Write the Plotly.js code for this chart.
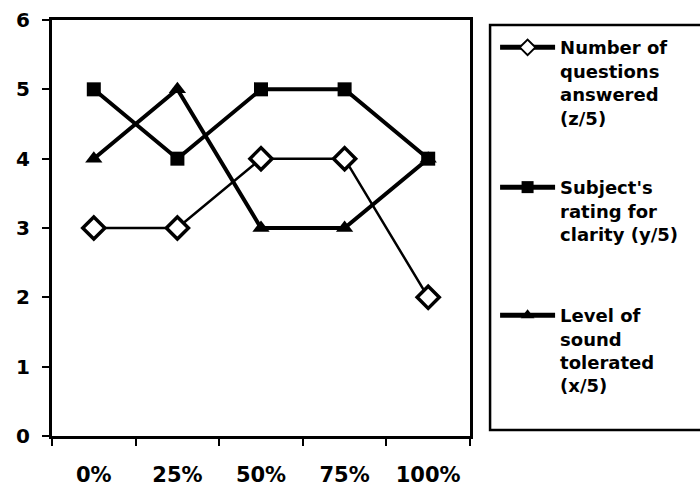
<!DOCTYPE html>
<html>
<head>
<meta charset="utf-8">
<script src="https://cdn.plot.ly/plotly-3.0.1.min.js"></script>
<style>
  html, body { margin: 0; padding: 0; background: #fff; }
  #chart { width: 700px; height: 489px; }
</style>
</head>
<body>
<div id="chart"></div>
<script>
// Share of added noise along the x axis
const levels = ['0%', '25%', '50%', '75%', '100%'];

// Scores out of 5 for each measure
const questionsAnswered = [3, 3, 4, 4, 2];
const clarityRating = [5, 4, 5, 5, 4];
const soundTolerated = [4, 5, 3, 3, 4];

const seriesNames = [
  'Number of<br>questions<br>answered<br>(z/5)',
  "Subject's<br>rating for<br>clarity (y/5)",
  'Level of<br>sound<br>tolerated<br>(x/5)'
];

const FONT = 'DejaVu Sans, Arial, sans-serif';

// One legend block per series so each can sit at its own height
function legendBox(y) {
  return {
    x: 1.06, xanchor: 'left', y: y, yanchor: 'top',
    valign: 'top', borderwidth: 0, itemwidth: 55, itemsizing: 'constant',
    bgcolor: 'rgba(0,0,0,0)',
    font: { family: FONT, size: 18, color: '#000', weight: 'bold' }
  };
}

const traces = [
  {
    x: levels, y: questionsAnswered, name: seriesNames[0], legend: 'legend',
    type: 'scatter', mode: 'lines+markers',
    line: { color: '#000', width: 2.5 },
    marker: { symbol: 'diamond', size: 17, color: '#fff', line: { color: '#000', width: 3.5 } }
  },
  {
    x: levels, y: clarityRating, name: seriesNames[1], legend: 'legend2',
    type: 'scatter', mode: 'lines+markers',
    line: { color: '#000', width: 4 },
    marker: { symbol: 'square', size: 14, color: '#000' }
  },
  {
    x: levels, y: soundTolerated, name: seriesNames[2], legend: 'legend3',
    type: 'scatter', mode: 'lines+markers',
    line: { color: '#000', width: 4 },
    marker: { symbol: 'triangle-up', size: 15, color: '#000' }
  }
];

const layout = {
  width: 700, height: 489,
  margin: { l: 52, r: 230, t: 20, b: 53 },
  paper_bgcolor: '#fff', plot_bgcolor: '#fff',
  showlegend: true,
  legend: legendBox(0.978),
  legend2: legendBox(0.642),
  legend3: legendBox(0.334),
  xaxis: {
    type: 'category', range: [-0.5, 4.5], showgrid: false, zeroline: false,
    showline: true, linecolor: '#000', linewidth: 3, mirror: true,
    ticks: 'outside', tickson: 'boundaries', ticklen: 7, tickwidth: 2, tickcolor: '#000',
    ticklabelstandoff: 18,
    tickfont: { family: FONT, size: 21, color: '#000', weight: 'bold' },
    fixedrange: true
  },
  yaxis: {
    range: [0, 6], dtick: 1, showgrid: false, zeroline: false,
    showline: true, linecolor: '#000', linewidth: 3, mirror: true,
    ticks: 'outside', ticklen: 7, tickwidth: 2, tickcolor: '#000',
    ticklabelstandoff: 8,
    tickfont: { family: FONT, size: 20, color: '#000', weight: 'bold' },
    fixedrange: true
  },
  shapes: [
    {
      type: 'rect', xref: 'paper', yref: 'paper',
      x0: 1.048, x1: 1.7, y0: 0.0144, y1: 0.988,
      line: { color: '#000', width: 2.5 }, fillcolor: 'rgba(0,0,0,0)'
    }
  ]
};

Plotly.newPlot('chart', traces, layout, { staticPlot: true, displayModeBar: false });
</script>
</body>
</html>
